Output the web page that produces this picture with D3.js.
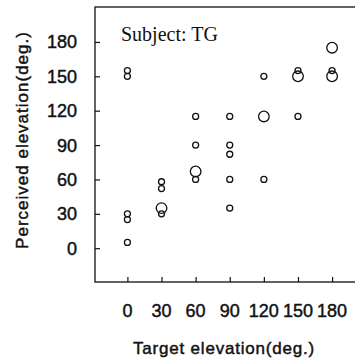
<!DOCTYPE html>
<html>
<head>
<meta charset="utf-8">
<script src="https://cdn.jsdelivr.net/npm/d3@7"></script>
<style>
  body { margin: 0; background: #fff; }
  svg { display: block; }
</style>
</head>
<body>
<script>
// chart size
const width = 355;
const height = 362;

// data: target elevation, perceived elevation, marker size (1 small, 2 big)
const target    = [0, 0, 0, 0, 0, 30, 30, 30, 30, 60, 60, 60, 60, 90, 90, 90, 90, 90, 120, 120, 120, 150, 150, 150, 180, 180, 180];
const perceived = [155, 150, 30, 25, 5, 58, 52, 35, 30, 115, 90, 67, 60, 115, 90, 82, 60, 35, 150, 115, 60, 155, 150, 115, 175, 155, 150];
const count     = [1, 1, 1, 1, 1, 1, 1, 2, 1, 1, 1, 2, 1, 1, 1, 1, 1, 1, 1, 2, 1, 1, 2, 1, 2, 1, 2];

const xTicks = [0, 30, 60, 90, 120, 150, 180];
const yTicks = [0, 30, 60, 90, 120, 150, 180];

// plot box (right edge runs off the picture)
const boxLeft = 95, boxTop = 7, boxRight = 362, boxBottom = 282;

var svg = d3.select("body").append("svg")
  .attr("width", width)
  .attr("height", height);

var x = d3.scaleLinear().domain([-28.5, 206.3]).range([boxLeft, boxRight]);
var y = d3.scaleLinear().domain([-29.5, 210.5]).range([boxBottom, boxTop]);
var r = d3.scaleOrdinal().domain([1, 2]).range([3, 5.3]);

// frame
svg.append("rect")
  .attr("x", boxLeft).attr("y", boxTop)
  .attr("width", boxRight - boxLeft).attr("height", boxBottom - boxTop)
  .style("fill", "none").style("stroke", "#222").style("stroke-width", 1.4);

// y axis, ticks inside
var yAxis = svg.append("g")
  .attr("transform", "translate(" + boxLeft + ",0)")
  .call(d3.axisRight(y).tickValues(yTicks).tickSize(5).tickFormat(""));
yAxis.select(".domain").remove();
yAxis.selectAll("line").style("stroke", "#111").style("stroke-width", 1.2);

// sans labels are a little heavy in the scan
function heavy(sel) {
  sel.style("font-family", "Liberation Sans, Arial, sans-serif")
    .style("fill", "#111")
    .style("stroke", "#111")
    .style("stroke-width", 0.45);
}

svg.selectAll(".ylab")
  .data(yTicks)
  .enter().append("text")
  .attr("class", "ylab")
  .attr("x", 77)
  .attr("y", d => y(d) + 6.5)
  .attr("text-anchor", "end")
  .style("font-size", "18px")
  .call(heavy)
  .text(d => d);

// x axis, ticks inside
var xAxis = svg.append("g")
  .attr("transform", "translate(0," + boxBottom + ")")
  .call(d3.axisTop(x).tickValues(xTicks).tickSize(5).tickFormat(""));
xAxis.select(".domain").remove();
xAxis.selectAll("line").style("stroke", "#111").style("stroke-width", 1.2);

svg.selectAll(".xlab")
  .data(xTicks)
  .enter().append("text")
  .attr("class", "xlab")
  .attr("x", d => x(d))
  .attr("y", 317)
  .attr("text-anchor", "middle")
  .style("font-size", "18px")
  .call(heavy)
  .text(d => d);

// axis titles
svg.append("text")
  .attr("x", 224)
  .attr("y", 354)
  .attr("text-anchor", "middle")
  .style("font-size", "17px")
  .style("letter-spacing", "0.8px")
  .call(heavy)
  .text("Target elevation(deg.)");

svg.append("text")
  .attr("transform", "translate(28,140) rotate(-90)")
  .attr("text-anchor", "middle")
  .style("font-size", "17px")
  .style("letter-spacing", "1px")
  .call(heavy)
  .text("Perceived elevation(deg.)");

// subject label
svg.append("text")
  .attr("x", 121)
  .attr("y", 41)
  .style("font-family", "Liberation Serif, Times New Roman, serif")
  .style("font-size", "20px")
  .style("fill", "#111")
  .text("Subject: TG");

// points
svg.selectAll("circle")
  .data(target)
  .enter()
  .append("circle")
  .attr("cx", d => x(d))
  .attr("cy", (d, i) => y(perceived[i]))
  .attr("r", (d, i) => r(count[i]))
  .style("fill", "none")
  .style("stroke", "#111")
  .style("stroke-width", 1.3);
</script>
</body>
</html>
